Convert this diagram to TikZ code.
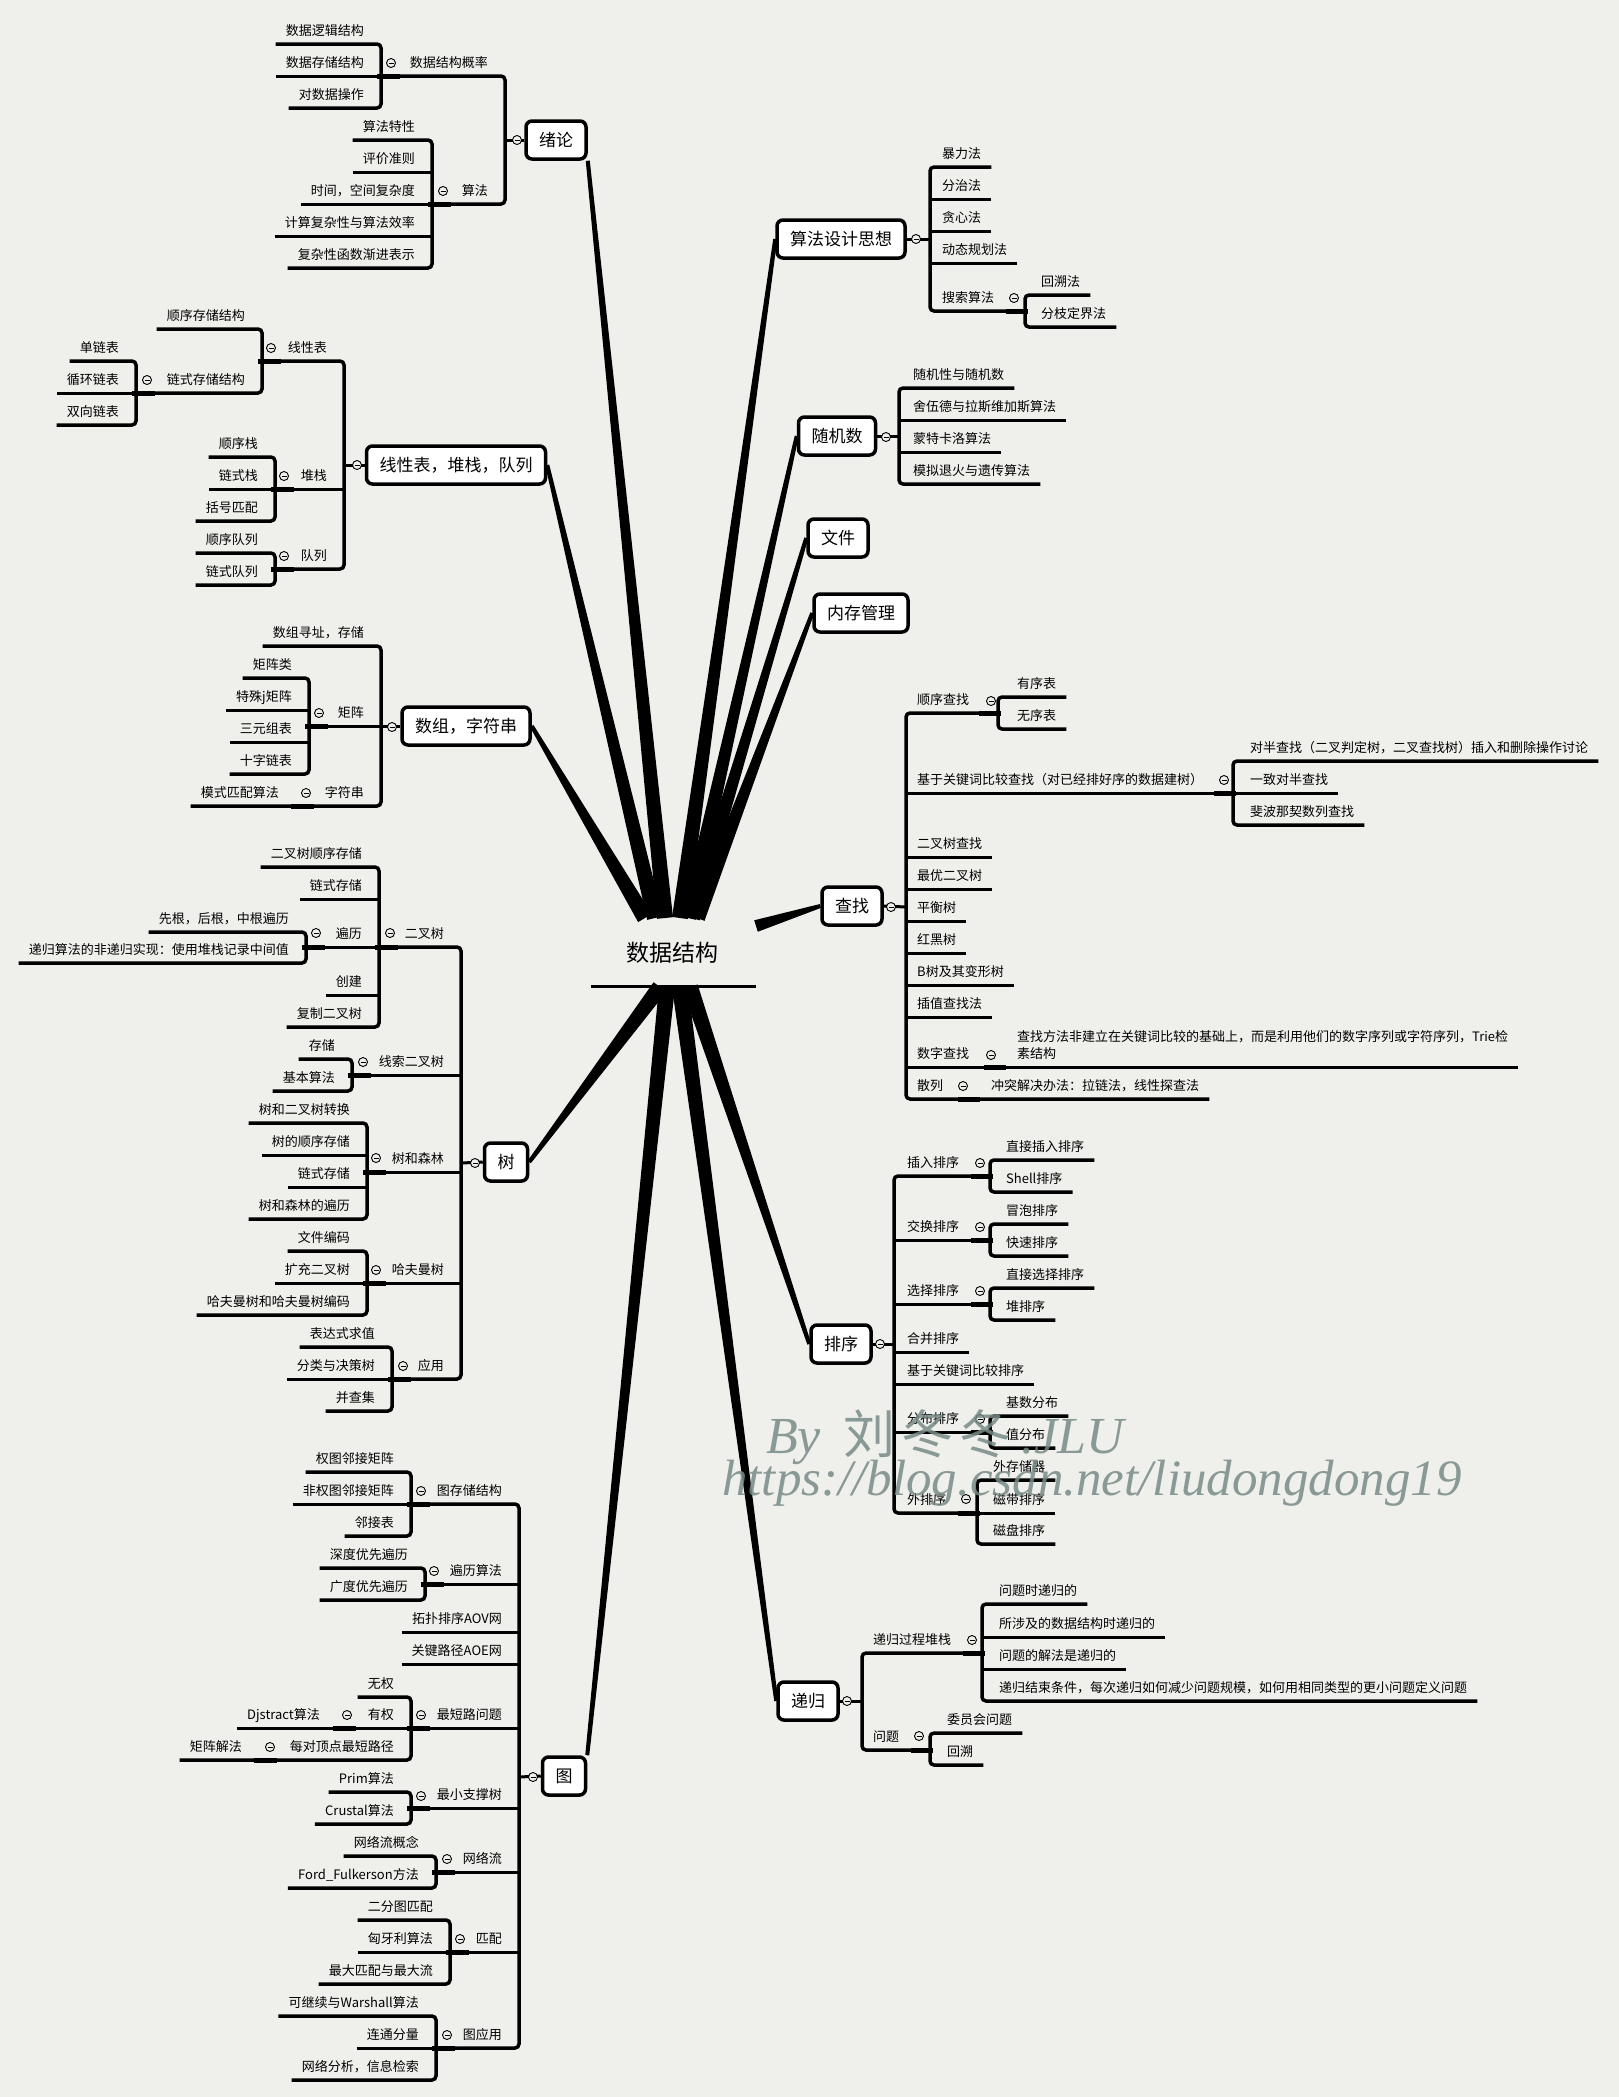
\documentclass[tikz,border=0pt]{standalone}
\usepackage{fontspec}
\setmainfont{Noto Sans CJK SC}
\newfontfamily\cnfont{Noto Sans CJK SC}
\newfontfamily\markfont{Liberation Serif}
\usetikzlibrary{calc}
\definecolor{paper}{RGB}{239,240,236}
\definecolor{markgray}{RGB}{118,138,135}
\tikzset{
    topic/.style={draw, line width=3.5pt, rounded corners=6pt, fill=white, font=\fontsize{17}{20}\selectfont, minimum height=38pt, inner xsep=13pt, inner ysep=0pt},
    leaf/.style={font=\fontsize{13}{17}\selectfont, inner xsep=10pt, inner ysep=0pt, text height=10pt, text depth=8pt},
    uline/.style={line width=3pt},
    brace/.style={line width=3.5pt, rounded corners=4pt},
    knob/.style={line width=5pt},
    fold/.style={circle, draw, line width=0.9pt, fill=paper, minimum size=9pt, inner sep=0pt, path picture={\draw[line width=0.8pt] ([xshift=-2.5pt]path picture bounding box.center) -- ([xshift=2.5pt]path picture bounding box.center);}}
}
\begin{document}
\begin{tikzpicture}[x=1pt,y=-1pt]
    \useasboundingbox (0,0) rectangle (1619,2097);
    \fill[paper] (0,0) rectangle (1619,2097);
    \node[font=\fontsize{23}{28}\selectfont, inner sep=0pt] (ds) at (672,953) {数据结构};
    \coordinate (ds-l) at (591,986);
    \coordinate (ds-r) at (756,986);
    \draw[uline] (ds-l) -- (ds-r);
    \node[topic] (xl) at (556,140) {绪论};
    \node[topic] (xx) at (456,465) {线性表，堆栈，队列};
    \node[topic] (sz) at (466,726) {数组，字符串};
    \node[topic] (sh) at (506,1162) {树};
    \node[topic] (tu) at (564,1776) {图};
    \node[topic] (sf) at (841,239) {算法设计思想};
    \node[topic] (sj) at (837,436) {随机数};
    \node[topic] (wj) at (838,538) {文件};
    \node[topic] (nc) at (861,613) {内存管理};
    \node[topic] (cz) at (852,906) {查找};
    \node[topic] (px) at (841,1344) {排序};
    \node[topic] (dg) at (808,1701) {递归};
    \coordinate (b-sz) at (645,918);
    \coordinate (b-xx) at (655,918);
    \coordinate (b-xl) at (665,918);
    \coordinate (b-sf) at (680,918);
    \coordinate (b-sj) at (688,918);
    \coordinate (b-wj) at (692,918);
    \coordinate (b-nc) at (697,918);
    \coordinate (b-sh) at (660,987);
    \coordinate (b-tu) at (667,987);
    \coordinate (b-dg) at (680,987);
    \coordinate (b-px) at (690,987);
    \coordinate (b-cz) at (756,926);
    \fill ($(xl.south east)!2pt!90:(b-xl)$) -- ($(b-xl)!8pt!-90:(xl.south east)$) -- ($(b-xl)!8pt!90:(xl.south east)$) -- ($(xl.south east)!2pt!-90:(b-xl)$) -- cycle;
    \fill ($(xx.east)!2pt!90:(b-xx)$) -- ($(b-xx)!8pt!-90:(xx.east)$) -- ($(b-xx)!8pt!90:(xx.east)$) -- ($(xx.east)!2pt!-90:(b-xx)$) -- cycle;
    \fill ($(sz.east)!2pt!90:(b-sz)$) -- ($(b-sz)!8pt!-90:(sz.east)$) -- ($(b-sz)!8pt!90:(sz.east)$) -- ($(sz.east)!2pt!-90:(b-sz)$) -- cycle;
    \fill ($(sh.east)!2pt!90:(b-sh)$) -- ($(b-sh)!8pt!-90:(sh.east)$) -- ($(b-sh)!8pt!90:(sh.east)$) -- ($(sh.east)!2pt!-90:(b-sh)$) -- cycle;
    \fill ($(tu.north east)!2pt!90:(b-tu)$) -- ($(b-tu)!8pt!-90:(tu.north east)$) -- ($(b-tu)!8pt!90:(tu.north east)$) -- ($(tu.north east)!2pt!-90:(b-tu)$) -- cycle;
    \fill ($(sf.west)!2pt!90:(b-sf)$) -- ($(b-sf)!8pt!-90:(sf.west)$) -- ($(b-sf)!8pt!90:(sf.west)$) -- ($(sf.west)!2pt!-90:(b-sf)$) -- cycle;
    \fill ($(sj.west)!2pt!90:(b-sj)$) -- ($(b-sj)!8pt!-90:(sj.west)$) -- ($(b-sj)!8pt!90:(sj.west)$) -- ($(sj.west)!2pt!-90:(b-sj)$) -- cycle;
    \fill ($(wj.west)!2pt!90:(b-wj)$) -- ($(b-wj)!8pt!-90:(wj.west)$) -- ($(b-wj)!8pt!90:(wj.west)$) -- ($(wj.west)!2pt!-90:(b-wj)$) -- cycle;
    \fill ($(nc.west)!2pt!90:(b-nc)$) -- ($(b-nc)!8pt!-90:(nc.west)$) -- ($(b-nc)!8pt!90:(nc.west)$) -- ($(nc.west)!2pt!-90:(b-nc)$) -- cycle;
    \fill ($(cz.west)!2pt!90:(b-cz)$) -- ($(b-cz)!6pt!-90:(cz.west)$) -- ($(b-cz)!6pt!90:(cz.west)$) -- ($(cz.west)!2pt!-90:(b-cz)$) -- cycle;
    \fill ($(px.west)!2pt!90:(b-px)$) -- ($(b-px)!8pt!-90:(px.west)$) -- ($(b-px)!8pt!90:(px.west)$) -- ($(px.west)!2pt!-90:(b-px)$) -- cycle;
    \fill ($(dg.west)!2pt!90:(b-dg)$) -- ($(b-dg)!8pt!-90:(dg.west)$) -- ($(b-dg)!8pt!90:(dg.west)$) -- ($(dg.west)!2pt!-90:(b-dg)$) -- cycle;

    \coordinate (xl-k) at (505,140);
    \coordinate (xl-1k) at (381,76);
    \coordinate (xl-2k) at (432,204);
    \node[leaf, anchor=south east] (xl-1) at (498,76) {数据结构概率};
    \node[leaf, anchor=south east] (xl-2) at (498,204) {算法};
    \node[leaf, anchor=south east] (xl-1a) at (374,44) {数据逻辑结构};
    \node[leaf, anchor=south east] (xl-1b) at (374,76) {数据存储结构};
    \node[leaf, anchor=south east] (xl-1c) at (374,108) {对数据操作};
    \node[leaf, anchor=south east] (xl-2a) at (425,140) {算法特性};
    \node[leaf, anchor=south east] (xl-2b) at (425,172) {评价准则};
    \node[leaf, anchor=south east] (xl-2c) at (425,204) {时间，空间复杂度};
    \node[leaf, anchor=south east] (xl-2d) at (425,236) {计算复杂性与算法效率};
    \node[leaf, anchor=south east] (xl-2e) at (425,268) {复杂性函数渐进表示};
    \draw[uline] (xl-k) -- (xl.west);
    \draw[brace] (xl-1k) -- (xl-1k -| xl-k) -- (xl-2k -| xl-k) -- (xl-2k);
    \draw[brace] (xl-1a.south west) -- (xl-1a.south west -| xl-1k) -- (xl-1c.south west -| xl-1k) -- (xl-1c.south west);
    \draw[uline] (xl-1b.south west) -- (xl-1k);
    \draw[brace] (xl-2a.south west) -- (xl-2a.south west -| xl-2k) -- (xl-2e.south west -| xl-2k) -- (xl-2e.south west);
    \draw[uline] (xl-2b.south west) -- (xl-2b.south west -| xl-2k);
    \draw[uline] (xl-2c.south west) -- (xl-2k);
    \draw[uline] (xl-2d.south west) -- (xl-2d.south west -| xl-2k);
    \draw[knob] ([xshift=-4pt]xl-1k) -- ([xshift=19pt]xl-1k);
    \draw[knob] ([xshift=-4pt]xl-2k) -- ([xshift=19pt]xl-2k);
    \node[fold] (xl-o) at (517,140) {};
    \node[fold] (xl-1o) at (391,63) {};
    \node[fold] (xl-2o) at (443,191) {};

    \coordinate (xx-k) at (344,465);
    \coordinate (xx-1k) at (262,361);
    \coordinate (xx-1bk) at (136,393);
    \coordinate (xx-2k) at (275,489);
    \coordinate (xx-3k) at (275,569);
    \node[leaf, anchor=south east] (xx-1) at (337,361) {线性表};
    \node[leaf, anchor=south east] (xx-2) at (337,489) {堆栈};
    \node[leaf, anchor=south east] (xx-3) at (337,569) {队列};
    \node[leaf, anchor=south east] (xx-1a) at (255,329) {顺序存储结构};
    \node[leaf, anchor=south east] (xx-1b) at (255,393) {链式存储结构};
    \node[leaf, anchor=south east] (xx-1b1) at (129,361) {单链表};
    \node[leaf, anchor=south east] (xx-1b2) at (129,393) {循环链表};
    \node[leaf, anchor=south east] (xx-1b3) at (129,425) {双向链表};
    \node[leaf, anchor=south east] (xx-2a) at (268,457) {顺序栈};
    \node[leaf, anchor=south east] (xx-2b) at (268,489) {链式栈};
    \node[leaf, anchor=south east] (xx-2c) at (268,521) {括号匹配};
    \node[leaf, anchor=south east] (xx-3a) at (268,553) {顺序队列};
    \node[leaf, anchor=south east] (xx-3b) at (268,585) {链式队列};
    \draw[uline] (xx-k) -- (xx.west);
    \draw[brace] (xx-1k) -- (xx-1k -| xx-k) -- (xx-3k -| xx-k) -- (xx-3k);
    \draw[uline] (xx-2k) -- (xx-2k -| xx-k);
    \draw[brace] (xx-1a.south west) -- (xx-1a.south west -| xx-1k) -- (xx-1bk -| xx-1k) -- (xx-1bk);
    \draw[brace] (xx-1b1.south west) -- (xx-1b1.south west -| xx-1bk) -- (xx-1b3.south west -| xx-1bk) -- (xx-1b3.south west);
    \draw[uline] (xx-1b2.south west) -- (xx-1bk);
    \draw[brace] (xx-2a.south west) -- (xx-2a.south west -| xx-2k) -- (xx-2c.south west -| xx-2k) -- (xx-2c.south west);
    \draw[uline] (xx-2b.south west) -- (xx-2k);
    \draw[brace] (xx-3a.south west) -- (xx-3a.south west -| xx-3k) -- (xx-3b.south west -| xx-3k) -- (xx-3b.south west);
    \draw[knob] ([xshift=-4pt]xx-1k) -- ([xshift=19pt]xx-1k);
    \draw[knob] ([xshift=-4pt]xx-1bk) -- ([xshift=19pt]xx-1bk);
    \draw[knob] ([xshift=-4pt]xx-2k) -- ([xshift=19pt]xx-2k);
    \draw[knob] ([xshift=-4pt]xx-3k) -- ([xshift=19pt]xx-3k);
    \node[fold] (xx-o) at (357,465) {};
    \node[fold] (xx-1o) at (271,348) {};
    \node[fold] (xx-1bo) at (147,380) {};
    \node[fold] (xx-2o) at (284,476) {};
    \node[fold] (xx-3o) at (284,556) {};

    \coordinate (sz-k) at (381,726);
    \coordinate (sz-2k) at (309,726);
    \coordinate (sz-3k) at (295,806);
    \node[leaf, anchor=south east] (sz-1) at (374,646) {数组寻址，存储};
    \node[leaf, anchor=south east] (sz-2) at (374,726) {矩阵};
    \node[leaf, anchor=south east] (sz-3) at (374,806) {字符串};
    \node[leaf, anchor=south east] (sz-2a) at (302,678) {矩阵类};
    \node[leaf, anchor=south east] (sz-2b) at (302,710) {特殊j矩阵};
    \node[leaf, anchor=south east] (sz-2c) at (302,742) {三元组表};
    \node[leaf, anchor=south east] (sz-2d) at (302,774) {十字链表};
    \node[leaf, anchor=south east] (sz-3a) at (289,806) {模式匹配算法};
    \draw[uline] (sz-k) -- (sz.west);
    \draw[brace] (sz-1.south west) -- (sz-1.south west -| sz-k) -- (sz-3a.south west -| sz-k) -- (sz-3a.south west);
    \draw[uline] (sz-2k) -- (sz-2k -| sz-k);
    \draw[brace] (sz-2a.south west) -- (sz-2a.south west -| sz-2k) -- (sz-2d.south west -| sz-2k) -- (sz-2d.south west);
    \draw[uline] (sz-2b.south west) -- (sz-2b.south west -| sz-2k);
    \draw[uline] (sz-2c.south west) -- (sz-2c.south west -| sz-2k);
    \draw[knob] ([xshift=-4pt]sz-2k) -- ([xshift=19pt]sz-2k);
    \draw[knob] ([xshift=-4pt]sz-3k) -- ([xshift=19pt]sz-3k);
    \node[fold] (sz-o) at (392,727) {};
    \node[fold] (sz-2o) at (319,713) {};
    \node[fold] (sz-3o) at (306,793) {};

    \coordinate (sh-k) at (461,1163);
    \coordinate (sh-1k) at (379,947);
    \coordinate (sh-1ck) at (306,947);
    \coordinate (sh-2k) at (352,1075);
    \coordinate (sh-3k) at (367,1172);
    \coordinate (sh-4k) at (367,1283);
    \coordinate (sh-5k) at (392,1379);
    \node[leaf, anchor=south east] (sh-1) at (454,947) {二叉树};
    \node[leaf, anchor=south east] (sh-2) at (454,1075) {线索二叉树};
    \node[leaf, anchor=south east] (sh-3) at (454,1172) {树和森林};
    \node[leaf, anchor=south east] (sh-4) at (454,1283) {哈夫曼树};
    \node[leaf, anchor=south east] (sh-5) at (454,1379) {应用};
    \node[leaf, anchor=south east] (sh-1a) at (372,867) {二叉树顺序存储};
    \node[leaf, anchor=south east] (sh-1b) at (372,899) {链式存储};
    \node[leaf, anchor=south east] (sh-1c) at (372,947) {遍历};
    \node[leaf, anchor=south east] (sh-1d) at (372,995) {创建};
    \node[leaf, anchor=south east] (sh-1e) at (372,1027) {复制二叉树};
    \node[leaf, anchor=south east] (sh-1c1) at (299,932) {先根，后根，中根遍历};
    \node[leaf, anchor=south east] (sh-1c2) at (299,963) {递归算法的非递归实现：使用堆栈记录中间值};
    \node[leaf, anchor=south east] (sh-2a) at (345,1059) {存储};
    \node[leaf, anchor=south east] (sh-2b) at (345,1091) {基本算法};
    \node[leaf, anchor=south east] (sh-3a) at (360,1123) {树和二叉树转换};
    \node[leaf, anchor=south east] (sh-3b) at (360,1155) {树的顺序存储};
    \node[leaf, anchor=south east] (sh-3c) at (360,1187) {链式存储};
    \node[leaf, anchor=south east] (sh-3d) at (360,1219) {树和森林的遍历};
    \node[leaf, anchor=south east] (sh-4a) at (360,1251) {文件编码};
    \node[leaf, anchor=south east] (sh-4b) at (360,1283) {扩充二叉树};
    \node[leaf, anchor=south east] (sh-4c) at (360,1315) {哈夫曼树和哈夫曼树编码};
    \node[leaf, anchor=south east] (sh-5a) at (385,1347) {表达式求值};
    \node[leaf, anchor=south east] (sh-5b) at (385,1379) {分类与决策树};
    \node[leaf, anchor=south east] (sh-5c) at (385,1411) {并查集};
    \draw[uline] (sh-k) -- (sh.west);
    \draw[brace] (sh-1k) -- (sh-1k -| sh-k) -- (sh-5k -| sh-k) -- (sh-5k);
    \draw[uline] (sh-2k) -- (sh-2k -| sh-k);
    \draw[uline] (sh-3k) -- (sh-3k -| sh-k);
    \draw[uline] (sh-4k) -- (sh-4k -| sh-k);
    \draw[brace] (sh-1a.south west) -- (sh-1a.south west -| sh-1k) -- (sh-1e.south west -| sh-1k) -- (sh-1e.south west);
    \draw[uline] (sh-1b.south west) -- (sh-1b.south west -| sh-1k);
    \draw[uline] (sh-1ck) -- (sh-1k);
    \draw[uline] (sh-1d.south west) -- (sh-1d.south west -| sh-1k);
    \draw[brace] (sh-1c1.south west) -- (sh-1c1.south west -| sh-1ck) -- (sh-1c2.south west -| sh-1ck) -- (sh-1c2.south west);
    \draw[brace] (sh-2a.south west) -- (sh-2a.south west -| sh-2k) -- (sh-2b.south west -| sh-2k) -- (sh-2b.south west);
    \draw[brace] (sh-3a.south west) -- (sh-3a.south west -| sh-3k) -- (sh-3d.south west -| sh-3k) -- (sh-3d.south west);
    \draw[uline] (sh-3b.south west) -- (sh-3b.south west -| sh-3k);
    \draw[uline] (sh-3c.south west) -- (sh-3c.south west -| sh-3k);
    \draw[brace] (sh-4a.south west) -- (sh-4a.south west -| sh-4k) -- (sh-4c.south west -| sh-4k) -- (sh-4c.south west);
    \draw[uline] (sh-4b.south west) -- (sh-4k);
    \draw[brace] (sh-5a.south west) -- (sh-5a.south west -| sh-5k) -- (sh-5c.south west -| sh-5k) -- (sh-5c.south west);
    \draw[uline] (sh-5b.south west) -- (sh-5k);
    \draw[knob] ([xshift=-4pt]sh-1k) -- ([xshift=19pt]sh-1k);
    \draw[knob] ([xshift=-4pt]sh-1ck) -- ([xshift=19pt]sh-1ck);
    \draw[knob] ([xshift=-4pt]sh-2k) -- ([xshift=19pt]sh-2k);
    \draw[knob] ([xshift=-4pt]sh-3k) -- ([xshift=19pt]sh-3k);
    \draw[knob] ([xshift=-4pt]sh-4k) -- ([xshift=19pt]sh-4k);
    \draw[knob] ([xshift=-4pt]sh-5k) -- ([xshift=19pt]sh-5k);
    \node[fold] (sh-o) at (475,1163) {};
    \node[fold] (sh-1o) at (390,933) {};
    \node[fold] (sh-1co) at (316,933) {};
    \node[fold] (sh-2o) at (363,1062) {};
    \node[fold] (sh-3o) at (376,1158) {};
    \node[fold] (sh-4o) at (376,1270) {};
    \node[fold] (sh-5o) at (403,1366) {};

    \coordinate (tu-k) at (519,1777);
    \coordinate (tu-1k) at (411,1504);
    \coordinate (tu-2k) at (425,1584);
    \coordinate (tu-5k) at (411,1728);
    \coordinate (tu-5bk) at (337,1728);
    \coordinate (tu-5ck) at (258,1760);
    \coordinate (tu-6k) at (411,1808);
    \coordinate (tu-7k) at (436,1872);
    \coordinate (tu-8k) at (450,1952);
    \coordinate (tu-9k) at (436,2048);
    \node[leaf, anchor=south east] (tu-1) at (512,1504) {图存储结构};
    \node[leaf, anchor=south east] (tu-2) at (512,1584) {遍历算法};
    \node[leaf, anchor=south east] (tu-3) at (512,1632) {拓扑排序AOV网};
    \node[leaf, anchor=south east] (tu-4) at (512,1664) {关键路径AOE网};
    \node[leaf, anchor=south east] (tu-5) at (512,1728) {最短路问题};
    \node[leaf, anchor=south east] (tu-6) at (512,1808) {最小支撑树};
    \node[leaf, anchor=south east] (tu-7) at (512,1872) {网络流};
    \node[leaf, anchor=south east] (tu-8) at (512,1952) {匹配};
    \node[leaf, anchor=south east] (tu-9) at (512,2048) {图应用};
    \node[leaf, anchor=south east] (tu-1a) at (404,1472) {权图邻接矩阵};
    \node[leaf, anchor=south east] (tu-1b) at (404,1504) {非权图邻接矩阵};
    \node[leaf, anchor=south east] (tu-1c) at (404,1536) {邻接表};
    \node[leaf, anchor=south east] (tu-2a) at (418,1568) {深度优先遍历};
    \node[leaf, anchor=south east] (tu-2b) at (418,1600) {广度优先遍历};
    \node[leaf, anchor=south east] (tu-5a) at (404,1697) {无权};
    \node[leaf, anchor=south east] (tu-5b) at (404,1728) {有权};
    \node[leaf, anchor=south east] (tu-5c) at (404,1760) {每对顶点最短路径};
    \node[leaf, anchor=south east] (tu-5b1) at (330,1728) {Djstract算法};
    \node[leaf, anchor=south east] (tu-5c1) at (252,1760) {矩阵解法};
    \node[leaf, anchor=south east] (tu-6a) at (404,1792) {Prim算法};
    \node[leaf, anchor=south east] (tu-6b) at (404,1824) {Crustal算法};
    \node[leaf, anchor=south east] (tu-7a) at (429,1856) {网络流概念};
    \node[leaf, anchor=south east] (tu-7b) at (429,1888) {Ford\_Fulkerson方法};
    \node[leaf, anchor=south east] (tu-8a) at (443,1920) {二分图匹配};
    \node[leaf, anchor=south east] (tu-8b) at (443,1952) {匈牙利算法};
    \node[leaf, anchor=south east] (tu-8c) at (443,1984) {最大匹配与最大流};
    \node[leaf, anchor=south east] (tu-9a) at (429,2016) {可继续与Warshall算法};
    \node[leaf, anchor=south east] (tu-9b) at (429,2048) {连通分量};
    \node[leaf, anchor=south east] (tu-9c) at (429,2080) {网络分析，信息检索};
    \draw[uline] (tu-k) -- (tu.west);
    \draw[brace] (tu-1k) -- (tu-1k -| tu-k) -- (tu-9k -| tu-k) -- (tu-9k);
    \draw[uline] (tu-2k) -- (tu-2k -| tu-k);
    \draw[uline] (tu-3.south west) -- (tu-3.south west -| tu-k);
    \draw[uline] (tu-4.south west) -- (tu-4.south west -| tu-k);
    \draw[uline] (tu-5k) -- (tu-5k -| tu-k);
    \draw[uline] (tu-6k) -- (tu-6k -| tu-k);
    \draw[uline] (tu-7k) -- (tu-7k -| tu-k);
    \draw[uline] (tu-8k) -- (tu-8k -| tu-k);
    \draw[brace] (tu-1a.south west) -- (tu-1a.south west -| tu-1k) -- (tu-1c.south west -| tu-1k) -- (tu-1c.south west);
    \draw[uline] (tu-1b.south west) -- (tu-1k);
    \draw[brace] (tu-2a.south west) -- (tu-2a.south west -| tu-2k) -- (tu-2b.south west -| tu-2k) -- (tu-2b.south west);
    \draw[brace] (tu-5a.south west) -- (tu-5a.south west -| tu-5k) -- (tu-5c1.south west -| tu-5k) -- (tu-5c1.south west);
    \draw[uline] (tu-5b1.south west) -- (tu-5k);
    \draw[brace] (tu-6a.south west) -- (tu-6a.south west -| tu-6k) -- (tu-6b.south west -| tu-6k) -- (tu-6b.south west);
    \draw[brace] (tu-7a.south west) -- (tu-7a.south west -| tu-7k) -- (tu-7b.south west -| tu-7k) -- (tu-7b.south west);
    \draw[brace] (tu-8a.south west) -- (tu-8a.south west -| tu-8k) -- (tu-8c.south west -| tu-8k) -- (tu-8c.south west);
    \draw[uline] (tu-8b.south west) -- (tu-8k);
    \draw[brace] (tu-9a.south west) -- (tu-9a.south west -| tu-9k) -- (tu-9c.south west -| tu-9k) -- (tu-9c.south west);
    \draw[uline] (tu-9b.south west) -- (tu-9k);
    \draw[knob] ([xshift=-4pt]tu-1k) -- ([xshift=19pt]tu-1k);
    \draw[knob] ([xshift=-4pt]tu-2k) -- ([xshift=19pt]tu-2k);
    \draw[knob] ([xshift=-4pt]tu-5k) -- ([xshift=19pt]tu-5k);
    \draw[knob] ([xshift=-4pt]tu-5bk) -- ([xshift=19pt]tu-5bk);
    \draw[knob] ([xshift=-4pt]tu-5ck) -- ([xshift=19pt]tu-5ck);
    \draw[knob] ([xshift=-4pt]tu-6k) -- ([xshift=19pt]tu-6k);
    \draw[knob] ([xshift=-4pt]tu-7k) -- ([xshift=19pt]tu-7k);
    \draw[knob] ([xshift=-4pt]tu-8k) -- ([xshift=19pt]tu-8k);
    \draw[knob] ([xshift=-4pt]tu-9k) -- ([xshift=19pt]tu-9k);
    \node[fold] (tu-o) at (533,1777) {};
    \node[fold] (tu-1o) at (421,1491) {};
    \node[fold] (tu-2o) at (434,1571) {};
    \node[fold] (tu-5o) at (421,1715) {};
    \node[fold] (tu-5bo) at (347,1715) {};
    \node[fold] (tu-5co) at (270,1747) {};
    \node[fold] (tu-6o) at (421,1796) {};
    \node[fold] (tu-7o) at (447,1859) {};
    \node[fold] (tu-8o) at (460,1939) {};
    \node[fold] (tu-9o) at (447,2035) {};

    \coordinate (sf-k) at (930,239);
    \coordinate (sf-5k) at (1025,311);
    \node[leaf, anchor=south west] (sf-1) at (932,167) {暴力法};
    \node[leaf, anchor=south west] (sf-2) at (932,199) {分治法};
    \node[leaf, anchor=south west] (sf-3) at (932,231) {贪心法};
    \node[leaf, anchor=south west] (sf-4) at (932,263) {动态规划法};
    \node[leaf, anchor=south west] (sf-5) at (932,311) {搜索算法};
    \node[leaf, anchor=south west] (sf-5a) at (1031,295) {回溯法};
    \node[leaf, anchor=south west] (sf-5b) at (1031,327) {分枝定界法};
    \draw[uline] (sf.east) -- (sf-k);
    \draw[brace] (sf-1.south east) -- (sf-1.south east -| sf-k) -- (sf-5k -| sf-k) -- (sf-5k);
    \draw[uline] (sf-2.south east) -- (sf-2.south east -| sf-k);
    \draw[uline] (sf-3.south east) -- (sf-3.south east -| sf-k);
    \draw[uline] (sf-4.south east) -- (sf-4.south east -| sf-k);
    \draw[brace] (sf-5a.south east) -- (sf-5a.south east -| sf-5k) -- (sf-5b.south east -| sf-5k) -- (sf-5b.south east);
    \draw[knob] ([xshift=-19pt]sf-5k) -- ([xshift=3pt]sf-5k);
    \node[fold] (sf-o) at (916,239) {};
    \node[fold] (sf-5o) at (1014,298) {};

    \coordinate (sj-k) at (899,436);
    \node[leaf, anchor=south west] (sj-1) at (903,388) {随机性与随机数};
    \node[leaf, anchor=south west] (sj-2) at (903,420) {舍伍德与拉斯维加斯算法};
    \node[leaf, anchor=south west] (sj-3) at (903,452) {蒙特卡洛算法};
    \node[leaf, anchor=south west] (sj-4) at (903,484) {模拟退火与遗传算法};
    \draw[uline] (sj.east) -- (sj-k);
    \draw[brace] (sj-1.south east) -- (sj-1.south east -| sj-k) -- (sj-4.south east -| sj-k) -- (sj-4.south east);
    \draw[uline] (sj-2.south east) -- (sj-2.south east -| sj-k);
    \draw[uline] (sj-3.south east) -- (sj-3.south east -| sj-k);
    \node[fold] (sj-o) at (886,437) {};

    \coordinate (cz-k) at (906,907);
    \coordinate (cz-1k) at (998,713);
    \coordinate (cz-2k) at (1233,793);
    \coordinate (cz-9k) at (1003,1067);
    \coordinate (cz-10k) at (977,1099);
    \node[leaf, anchor=south west] (cz-1) at (907,713) {顺序查找};
    \node[leaf, anchor=south west] (cz-2) at (907,793) {基于关键词比较查找（对已经排好序的数据建树）};
    \node[leaf, anchor=south west] (cz-3) at (907,857) {二叉树查找};
    \node[leaf, anchor=south west] (cz-4) at (907,889) {最优二叉树};
    \node[leaf, anchor=south west] (cz-5) at (907,921) {平衡树};
    \node[leaf, anchor=south west] (cz-6) at (907,953) {红黑树};
    \node[leaf, anchor=south west] (cz-7) at (907,985) {B树及其变形树};
    \node[leaf, anchor=south west] (cz-8) at (907,1017) {插值查找法};
    \node[leaf, anchor=south west] (cz-9) at (907,1067) {数字查找};
    \node[leaf, anchor=south west] (cz-10) at (907,1099) {散列};
    \node[leaf, anchor=south west] (cz-1a) at (1007,697) {有序表};
    \node[leaf, anchor=south west] (cz-1b) at (1007,729) {无序表};
    \node[leaf, anchor=south west] (cz-2a) at (1240,761) {对半查找（二叉判定树，二叉查找树）插入和删除操作讨论};
    \node[leaf, anchor=south west] (cz-2b) at (1240,793) {一致对半查找};
    \node[leaf, anchor=south west] (cz-2c) at (1240,825) {斐波那契数列查找};
    \node[leaf, anchor=south west] (cz-9a) at (1007,1067) {\begin{tabular}[b]{@{}l@{}}查找方法非建立在关键词比较的基础上，而是利用他们的数字序列或字符序列，Trie检\\素结构\end{tabular}};
    \node[leaf, anchor=south west] (cz-10a) at (981,1099) {冲突解决办法：拉链法，线性探查法};
    \draw[uline] (cz.east) -- (cz-k);
    \draw[brace] (cz-1k) -- (cz-1k -| cz-k) -- (cz-10a.south east -| cz-k) -- (cz-10a.south east);
    \draw[uline] (cz-2k) -- (cz-2k -| cz-k);
    \draw[uline] (cz-3.south east) -- (cz-3.south east -| cz-k);
    \draw[uline] (cz-4.south east) -- (cz-4.south east -| cz-k);
    \draw[uline] (cz-5.south east) -- (cz-5.south east -| cz-k);
    \draw[uline] (cz-6.south east) -- (cz-6.south east -| cz-k);
    \draw[uline] (cz-7.south east) -- (cz-7.south east -| cz-k);
    \draw[uline] (cz-8.south east) -- (cz-8.south east -| cz-k);
    \draw[uline] (cz-9a.south east) -- (cz-9a.south east -| cz-k);
    \draw[brace] (cz-1a.south east) -- (cz-1a.south east -| cz-1k) -- (cz-1b.south east -| cz-1k) -- (cz-1b.south east);
    \draw[brace] (cz-2a.south east) -- (cz-2a.south east -| cz-2k) -- (cz-2c.south east -| cz-2k) -- (cz-2c.south east);
    \draw[uline] (cz-2b.south east) -- (cz-2k);
    \draw[knob] ([xshift=-19pt]cz-1k) -- ([xshift=3pt]cz-1k);
    \draw[knob] ([xshift=-19pt]cz-2k) -- ([xshift=3pt]cz-2k);
    \draw[knob] ([xshift=-19pt]cz-9k) -- ([xshift=3pt]cz-9k);
    \draw[knob] ([xshift=-19pt]cz-10k) -- ([xshift=3pt]cz-10k);
    \node[fold] (cz-o) at (891,907) {};
    \node[fold] (cz-1o) at (991,701) {};
    \node[fold] (cz-2o) at (1224,780) {};
    \node[fold] (cz-9o) at (991,1055) {};
    \node[fold] (cz-10o) at (963,1086) {};

    \coordinate (px-k) at (894,1344);
    \coordinate (px-1k) at (990,1176);
    \coordinate (px-2k) at (990,1240);
    \coordinate (px-3k) at (990,1304);
    \coordinate (px-6k) at (990,1432);
    \coordinate (px-7k) at (977,1513);
    \node[leaf, anchor=south west] (px-1) at (897,1176) {插入排序};
    \node[leaf, anchor=south west] (px-2) at (897,1240) {交换排序};
    \node[leaf, anchor=south west] (px-3) at (897,1304) {选择排序};
    \node[leaf, anchor=south west] (px-4) at (897,1352) {合并排序};
    \node[leaf, anchor=south west] (px-5) at (897,1384) {基于关键词比较排序};
    \node[leaf, anchor=south west] (px-6) at (897,1432) {分布排序};
    \node[leaf, anchor=south west] (px-7) at (897,1513) {外排序};
    \node[leaf, anchor=south west] (px-1a) at (996,1160) {直接插入排序};
    \node[leaf, anchor=south west] (px-1b) at (996,1192) {Shell排序};
    \node[leaf, anchor=south west] (px-2a) at (996,1224) {冒泡排序};
    \node[leaf, anchor=south west] (px-2b) at (996,1256) {快速排序};
    \node[leaf, anchor=south west] (px-3a) at (996,1288) {直接选择排序};
    \node[leaf, anchor=south west] (px-3b) at (996,1320) {堆排序};
    \node[leaf, anchor=south west] (px-6a) at (996,1416) {基数分布};
    \node[leaf, anchor=south west] (px-6b) at (996,1448) {值分布};
    \node[leaf, anchor=south west] (px-7a) at (983,1480) {外存储器};
    \node[leaf, anchor=south west] (px-7b) at (983,1513) {磁带排序};
    \node[leaf, anchor=south west] (px-7c) at (983,1544) {磁盘排序};
    \draw[uline] (px.east) -- (px-k);
    \draw[brace] (px-1k) -- (px-1k -| px-k) -- (px-7k -| px-k) -- (px-7k);
    \draw[uline] (px-2k) -- (px-2k -| px-k);
    \draw[uline] (px-3k) -- (px-3k -| px-k);
    \draw[uline] (px-4.south east) -- (px-4.south east -| px-k);
    \draw[uline] (px-5.south east) -- (px-5.south east -| px-k);
    \draw[uline] (px-6k) -- (px-6k -| px-k);
    \draw[brace] (px-1a.south east) -- (px-1a.south east -| px-1k) -- (px-1b.south east -| px-1k) -- (px-1b.south east);
    \draw[brace] (px-2a.south east) -- (px-2a.south east -| px-2k) -- (px-2b.south east -| px-2k) -- (px-2b.south east);
    \draw[brace] (px-3a.south east) -- (px-3a.south east -| px-3k) -- (px-3b.south east -| px-3k) -- (px-3b.south east);
    \draw[brace] (px-6a.south east) -- (px-6a.south east -| px-6k) -- (px-6b.south east -| px-6k) -- (px-6b.south east);
    \draw[brace] (px-7a.south east) -- (px-7a.south east -| px-7k) -- (px-7c.south east -| px-7k) -- (px-7c.south east);
    \draw[uline] (px-7b.south east) -- (px-7k);
    \draw[knob] ([xshift=-19pt]px-1k) -- ([xshift=3pt]px-1k);
    \draw[knob] ([xshift=-19pt]px-2k) -- ([xshift=3pt]px-2k);
    \draw[knob] ([xshift=-19pt]px-3k) -- ([xshift=3pt]px-3k);
    \draw[knob] ([xshift=-19pt]px-6k) -- ([xshift=3pt]px-6k);
    \draw[knob] ([xshift=-19pt]px-7k) -- ([xshift=3pt]px-7k);
    \node[fold] (px-o) at (880,1344) {};
    \node[fold] (px-1o) at (980,1163) {};
    \node[fold] (px-2o) at (980,1227) {};
    \node[fold] (px-3o) at (980,1291) {};
    \node[fold] (px-6o) at (980,1419) {};
    \node[fold] (px-7o) at (966,1499) {};

    \coordinate (dg-k) at (862,1701);
    \coordinate (dg-1k) at (982,1653);
    \coordinate (dg-2k) at (930,1750);
    \node[leaf, anchor=south west] (dg-1) at (863,1653) {递归过程堆栈};
    \node[leaf, anchor=south west] (dg-2) at (863,1750) {问题};
    \node[leaf, anchor=south west] (dg-1a) at (989,1604) {问题时递归的};
    \node[leaf, anchor=south west] (dg-1b) at (989,1637) {所涉及的数据结构时递归的};
    \node[leaf, anchor=south west] (dg-1c) at (989,1669) {问题的解法是递归的};
    \node[leaf, anchor=south west] (dg-1d) at (989,1701) {递归结束条件，每次递归如何减少问题规模，如何用相同类型的更小问题定义问题};
    \node[leaf, anchor=south west] (dg-2a) at (937,1733) {委员会问题};
    \node[leaf, anchor=south west] (dg-2b) at (937,1765) {回溯};
    \draw[uline] (dg.east) -- (dg-k);
    \draw[brace] (dg-1k) -- (dg-1k -| dg-k) -- (dg-2k -| dg-k) -- (dg-2k);
    \draw[brace] (dg-1a.south east) -- (dg-1a.south east -| dg-1k) -- (dg-1d.south east -| dg-1k) -- (dg-1d.south east);
    \draw[uline] (dg-1b.south east) -- (dg-1b.south east -| dg-1k);
    \draw[uline] (dg-1c.south east) -- (dg-1c.south east -| dg-1k);
    \draw[brace] (dg-2a.south east) -- (dg-2a.south east -| dg-2k) -- (dg-2b.south east -| dg-2k) -- (dg-2b.south east);
    \draw[knob] ([xshift=-19pt]dg-1k) -- ([xshift=3pt]dg-1k);
    \draw[knob] ([xshift=-19pt]dg-2k) -- ([xshift=3pt]dg-2k);
    \node[fold] (dg-o) at (847,1701) {};
    \node[fold] (dg-1o) at (972,1640) {};
    \node[fold] (dg-2o) at (919,1736) {};

    \node[text=markgray, opacity=0.85, font=\markfont\itshape\fontsize{52}{52}\selectfont, anchor=base west, inner sep=0pt] (wm-1) at (766,1453) {By\hspace{22pt}{\cnfont 刘\hspace{6pt}冬\hspace{6pt}冬}\hspace{10pt}.JLU};
    \node[text=markgray, opacity=0.85, font=\markfont\itshape\fontsize{51}{51}\selectfont, anchor=base west, inner sep=0pt] (wm-2) at (722,1495) {https://blog.csdn.net/liudongdong19};
\end{tikzpicture}
\end{document}
